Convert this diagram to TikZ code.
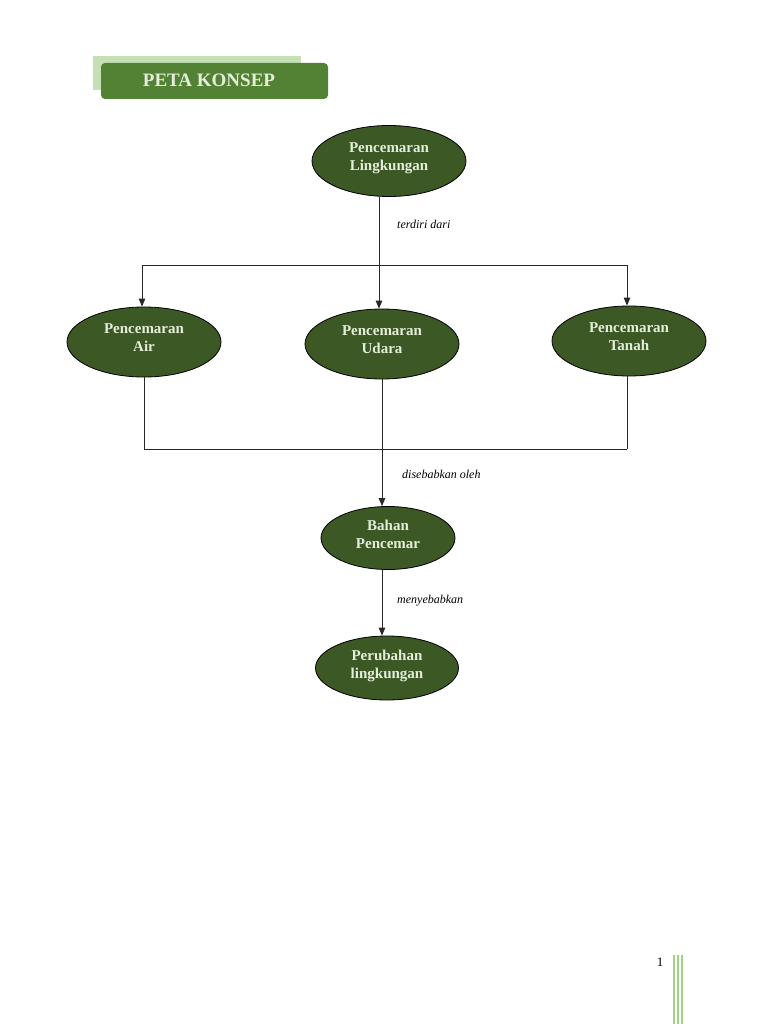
\documentclass[tikz,border=0pt]{standalone}
\usepackage{fontspec}
\setmainfont{Liberation Serif}
\usetikzlibrary{arrows.meta,shapes.geometric}
\definecolor{nodegreen}{RGB}{60,88,36}
\definecolor{nodetext}{RGB}{228,238,218}
\definecolor{titledark}{RGB}{84,130,53}
\definecolor{titlelight}{RGB}{197,224,180}
\definecolor{pagegreen}{RGB}{160,210,130}
\definecolor{linegray}{RGB}{40,40,40}
\tikzset{
  concept/.style={ellipse, draw=black, line width=0.8pt, fill=nodegreen, text=nodetext,
    font=\fontsize{15}{18}\selectfont\bfseries, align=center, inner sep=0pt, text depth=8pt},
  conn/.style={draw=linegray, line width=1pt},
  arr/.style={conn, -{Triangle[length=8pt,width=6.5pt]}},
  lbl/.style={font=\fontsize{12}{14}\selectfont\itshape, anchor=west, inner sep=0pt},
}
\begin{document}
\begin{tikzpicture}[x=1pt,y=-1pt]
\useasboundingbox (0,0) rectangle (768,1024);
% title
\fill[titlelight] (93,56) rectangle (301,90);
\fill[titledark, rounded corners=4pt] (101,63) rectangle (328,99);
\node[text=nodetext, font=\fontsize{19}{22}\selectfont\bfseries] (title) at (209,80) {PETA KONSEP};
% nodes
\node[concept, minimum width=154pt, minimum height=71pt] (ling) at (389,161) {Pencemaran\\Lingkungan};
\node[concept, minimum width=154pt, minimum height=70pt] (air) at (144,342) {Pencemaran\\Air};
\node[concept, minimum width=154pt, minimum height=70pt] (udara) at (382,344) {Pencemaran\\Udara};
\node[concept, minimum width=154pt, minimum height=70pt] (tanah) at (629,341) {Pencemaran\\Tanah};
\node[concept, minimum width=134pt, minimum height=63pt] (bahan) at (388,538) {Bahan\\Pencemar};
\node[concept, minimum width=143pt, minimum height=64pt] (ubah) at (387,668) {Perubahan\\lingkungan};
% junctions
\coordinate (jtop) at (379,265);
\coordinate (jl) at (142,265);
\coordinate (jr) at (627,265);
\coordinate (bl) at (144,449);
\coordinate (bm) at (382,449);
\coordinate (br) at (627,449);
% upper connectors
\draw[conn] (ling.south -| jtop) -- (jtop);
\draw[conn] (jl) -- (jr);
\draw[arr] (jl) -- (jl |- air.north);
\draw[arr] (jtop) -- (jtop |- udara.north);
\draw[arr] (jr) -- (jr |- tanah.north);
\node[lbl] (l1) at (397,224) {terdiri dari};
% lower connectors
\draw[conn] (air.south -| bl) -- (bl);
\draw[conn] (udara.south -| bm) -- (bm);
\draw[conn] (tanah.south -| br) -- (br);
\draw[conn] (bl) -- (br);
\draw[arr] (bm) -- (bm |- bahan.north);
\node[lbl] (l2) at (402,474) {disebabkan oleh};
\draw[arr] (bahan.south -| bm) -- (bm |- ubah.north);
\node[lbl] (l3) at (397,601) {menyebabkan};
% page number and decoration
\node[font=\fontsize{13}{15}\selectfont] (pnum) at (660,962) {1};
\draw[pagegreen, line width=1.3pt] (674,955) -- (674,1024);
\draw[pagegreen, line width=1.3pt] (678,955) -- (678,1024);
\draw[pagegreen, line width=1.3pt] (682,955) -- (682,1024);
\end{tikzpicture}
\end{document}
